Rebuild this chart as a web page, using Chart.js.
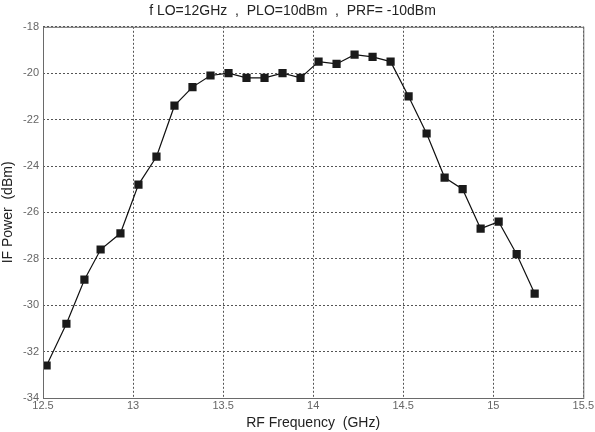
<!DOCTYPE html>
<html>
<head>
<meta charset="utf-8">
<script src="https://cdn.jsdelivr.net/npm/chart.js@4/dist/chart.umd.min.js"></script>
<style>
  html, body { margin: 0; padding: 0; background: #fff; }
  #wrap { width: 595px; height: 432px; }
</style>
</head>
<body>
<div id="wrap"><canvas id="ifChart" width="595" height="432"></canvas></div>
<script>
// RF frequency (GHz) for each measured point
const rfFreq = [12.52, 12.63, 12.73, 12.82, 12.93, 13.03, 13.13, 13.23, 13.33, 13.43,
  13.53, 13.63, 13.73, 13.83, 13.93, 14.03, 14.13, 14.23, 14.33, 14.43,
  14.53, 14.63, 14.73, 14.83, 14.93, 15.03, 15.13, 15.23];
// IF output power (dBm)
const ifPower = [-32.6, -30.8, -28.9, -27.6, -26.9, -24.8, -23.6, -21.4, -20.6, -20.1,
  -20.0, -20.2, -20.2, -20.0, -20.2, -19.5, -19.6, -19.2, -19.3, -19.5,
  -21.0, -22.6, -24.5, -25.0, -26.7, -26.4, -27.8, -29.5];

const titleText = "f LO=12GHz  ,  PLO=10dBm  ,  PRF= -10dBm";
const xTitle = "RF Frequency  (GHz)";
const yTitle = "IF Power  (dBm)";

const FONT = "'Liberation Sans', Arial, sans-serif";

// cadre complet autour de la zone de tracé
const boxPlugin = {
  id: "box",
  afterDraw(chart) {
    const { ctx, chartArea: a } = chart;
    ctx.save();
    ctx.strokeStyle = "#6a6a6a";
    ctx.lineWidth = 1;
    ctx.strokeRect(a.left + 0.5, a.top + 0.5, a.right - a.left, a.bottom - a.top);
    ctx.restore();
  },
};

const points = rfFreq.map((x, i) => ({ x, y: ifPower[i] }));

new Chart(document.getElementById("ifChart"), {
  type: "scatter",
  data: {
    datasets: [{
      data: points,
      showLine: true,
      borderColor: "#111",
      borderWidth: 1.2,
      backgroundColor: "#1a1a1a",
      pointStyle: "rect",
      pointRadius: 5.8,
      pointBorderWidth: 0,
      tension: 0,
    }],
  },
  options: {
    responsive: false,
    animation: false,
    layout: { padding: { left: 0, right: 10, top: 0, bottom: 0 } },
    plugins: {
      legend: { display: false },
      tooltip: { enabled: false },
      title: {
        display: true,
        text: titleText,
        color: "#222",
        font: { family: FONT, size: 14, weight: "normal" },
        padding: { top: 3, bottom: 7 },
      },
    },
    scales: {
      x: {
        type: "linear",
        min: 12.5,
        max: 15.5,
        ticks: {
          stepSize: 0.5,
          color: "#666",
          font: { family: FONT, size: 11 },
          padding: 1,
          maxRotation: 0,
          callback: (v) => String(+v.toFixed(1)),
        },
        grid: { color: "#555", drawTicks: false },
        border: { display: false, dash: [2, 2] },
        title: { display: true, text: xTitle, color: "#222", font: { family: FONT, size: 14 }, padding: 0 },
        afterFit: (s) => { s.height = 34; },
      },
      y: {
        min: -34,
        max: -18,
        ticks: { stepSize: 2, color: "#666", font: { family: FONT, size: 11 }, padding: 4 },
        grid: { color: "#555", drawTicks: false },
        border: { display: false, dash: [2, 2] },
        title: { display: true, text: yTitle, color: "#222", font: { family: FONT, size: 14 }, padding: { top: 0, bottom: 2 } },
        afterFit: (s) => { s.width = 43; },
      },
    },
  },
  plugins: [boxPlugin],
});
</script>
</body>
</html>
